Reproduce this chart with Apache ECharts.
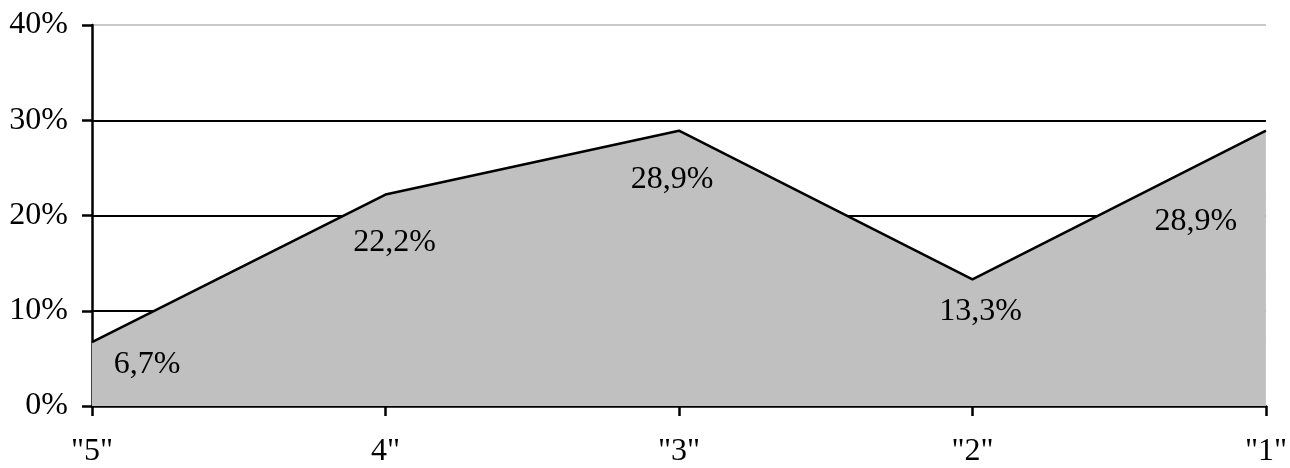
<!DOCTYPE html>
<html>
<head>
<meta charset="utf-8">
<script src="https://cdn.jsdelivr.net/npm/echarts@6/dist/echarts.min.js"></script>
<style>
html,body{margin:0;padding:0;background:#fff;}
#chart{width:1290px;height:468px;}
</style>
</head>
<body>
<div id="chart"></div>
<script>
var categories = ['"5"', '4"', '"3"', '"2"', '"1"'];
var values = [6.7, 22.2, 28.9, 13.3, 28.9];
var yTicks = [0, 10, 20, 30, 40];

var labelOffsets = [[55, 22], [9, 48], [-7, 49], [8, 32], [-70, 91]];

var chart = echarts.init(document.getElementById('chart'), null, {renderer: 'canvas'});
var font = '"Liberation Serif", "Times New Roman", Times, serif';
chart.setOption({
  animation: false,
  backgroundColor: '#ffffff',
  grid: {left: 92, right: 24, top: 25, bottom: 61, containLabel: false},
  xAxis: {
    type: 'category',
    data: categories,
    boundaryGap: false,
    axisLine: {lineStyle: {color: '#000', width: 2.5}},
    axisTick: {show: true, length: 10, lineStyle: {color: '#000', width: 2.5}, alignWithLabel: true},
    axisLabel: {color: '#000', fontFamily: font, fontSize: 32, margin: 30},
    splitLine: {show: false}
  },
  yAxis: {
    type: 'value',
    min: yTicks[0],
    max: yTicks[yTicks.length - 1],
    interval: 10,
    axisLine: {show: true, lineStyle: {color: '#000', width: 2.5}},
    axisTick: {show: true, length: 10, lineStyle: {color: '#000', width: 2.5}},
    axisLabel: {color: '#000', fontFamily: font, fontSize: 32, margin: 24,
      formatter: function (v) { return v + '%'; }},
    splitLine: {show: true, lineStyle: {color: ['#000', '#000', '#000', '#000', '#c8c8c8'], width: 2}}
  },
  series: [{
    type: 'line',
    data: values.map(function (v, i) {
      return {value: v, label: {offset: labelOffsets[i]}};
    }),
    symbol: 'circle',
    symbolSize: 1,
    showSymbol: true,
    itemStyle: {color: 'rgba(0,0,0,0)'},
    lineStyle: {color: '#000', width: 2.5},
    areaStyle: {color: '#c0c0c0', opacity: 1},
    label: {
      show: true,
      position: 'inside',
      align: 'center',
      verticalAlign: 'middle',
      color: '#000',
      fontFamily: font,
      fontSize: 32,
      formatter: function (p) { return String(p.value).replace('.', ',') + '%'; }
    }
  }]
});
</script>
</body>
</html>
